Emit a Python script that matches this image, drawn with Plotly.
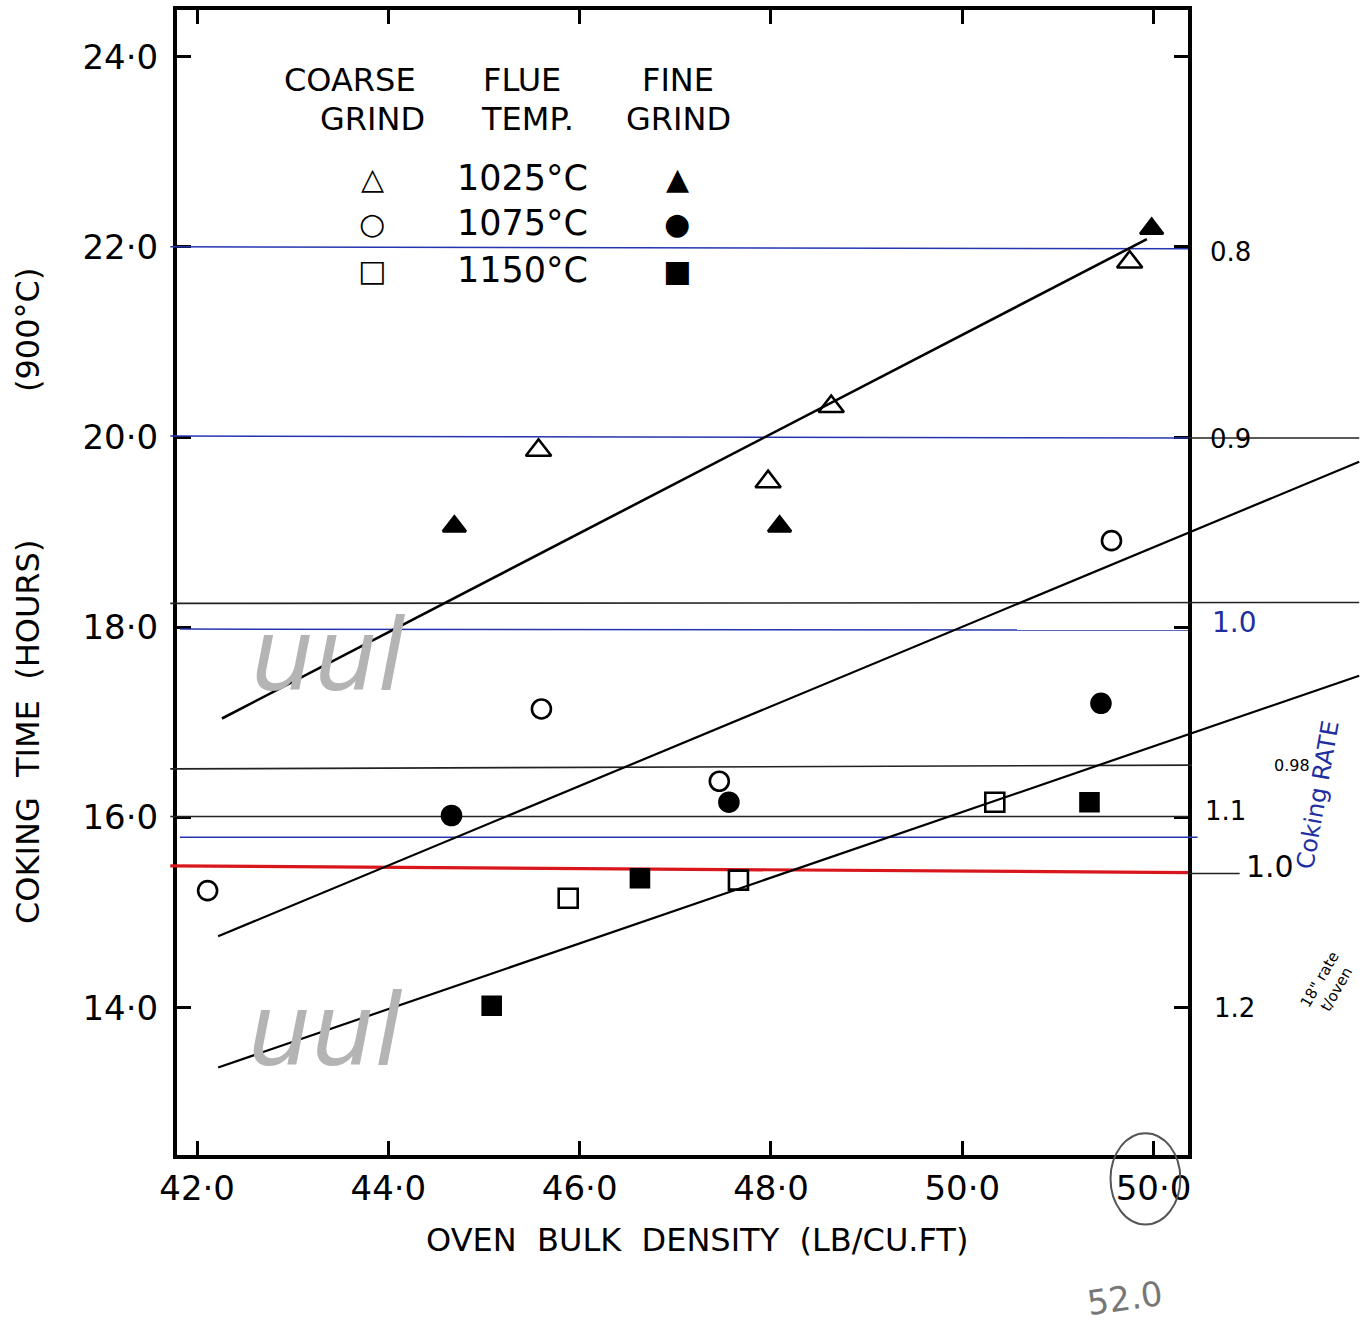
import plotly.graph_objects as go

# ---------------- data ----------------
# coarse grind (open markers)
c1025_x = [45.57, 47.97, 48.63, 51.75]
c1025_y = [19.86, 19.53, 20.32, 21.84]
c1075_x = [42.11, 45.60, 47.46, 51.56]
c1075_y = [15.23, 17.14, 16.38, 18.91]
c1150_x = [45.88, 47.66, 50.34]
c1150_y = [15.15, 15.34, 16.16]
# fine grind (filled markers)
f1025_x = [44.69, 48.09, 51.98]
f1025_y = [19.06, 19.06, 22.19]
f1075_x = [44.66, 47.56, 51.45]
f1075_y = [16.02, 16.16, 17.20]
f1150_x = [45.08, 46.63, 51.33]
f1150_y = [14.02, 15.36, 16.16]

# fitted lines (end points)
fit1025_x = [42.26, 51.93]
fit1025_y = [17.04, 22.08]
fit1075_x = [42.22, 54.15]
fit1075_y = [14.75, 19.74]
fit1150_x = [42.22, 54.15]
fit1150_y = [13.37, 17.49]

# hand-drawn horizontal reference lines: (x_start, x_end, y_start, y_end)
blue_lines = [(41.72, 52.36, 22.00, 21.98), (41.72, 52.36, 20.01, 19.99),
              (41.82, 52.36, 17.98, 17.97), (41.82, 52.46, 15.79, 15.79)]
black_lines = [(52.36, 54.15, 19.99, 19.99), (41.72, 54.15, 18.25, 18.26),
               (41.72, 52.40, 16.51, 16.55), (41.72, 52.36, 16.01, 16.01),
               (52.36, 52.90, 15.41, 15.41)]
red_line = (41.72, 52.36, 15.49, 15.42)

x_ticks = [42, 44, 46, 48, 50, 52]
x_ticktext = ["42·0", "44·0", "46·0", "48·0", "50·0", "50·0"]
y_ticks = [14, 16, 18, 20, 22, 24]
y_ticktext = ["14·0", "16·0", "18·0", "20·0", "22·0", "24·0"]

rate_text = ["0.8", "0.9", "1.0", "1.1", "1.0", "1.2"]
rate_x = [52.80, 52.80, 52.85, 52.75, 53.22, 52.85]
rate_y = [21.95, 19.98, 18.05, 16.07, 15.48, 14.00]
rate_col = ["black", "black", "#1f2fa0", "black", "black", "black"]
rate_size = [26, 26, 28, 26, 30, 26]

W, H = 1363, 1332
L, R, T, B = 177, 1188, 10, 1155  # plot box in pixels
X_RANGE = [41.79, 52.36]
Y_RANGE = [12.45, 24.49]

# full-page axes with the same scale (for marks that run past the frame)
sx = (X_RANGE[1] - X_RANGE[0]) / (R - L)
sy = (Y_RANGE[1] - Y_RANGE[0]) / (B - T)
X2_RANGE = [X_RANGE[0] - L * sx, X_RANGE[1] + (W - R) * sx]
Y2_RANGE = [Y_RANGE[0] - (H - B) * sy, Y_RANGE[1] + T * sy]

FONT = "DejaVu Sans"
fig = go.Figure()

# dummy trace to keep main frame subplot
fig.add_trace(go.Scatter(x=[], y=[], showlegend=False))

def seg(xs, ys, color, width):
    fig.add_trace(go.Scatter(x=xs, y=ys, mode="lines", xaxis="x2", yaxis="y2",
                             line=dict(color=color, width=width),
                             showlegend=False, hoverinfo="skip"))

for (x0, x1, y0, y1) in blue_lines:
    seg([x0, x1], [y0, y1], "#2535b0", 1.5)
for (x0, x1, y0, y1) in black_lines:
    seg([x0, x1], [y0, y1], "#222222", 1.6)
seg([red_line[0], red_line[1]], [red_line[2], red_line[3]], "#d8161b", 3.2)

seg(fit1025_x, fit1025_y, "black", 2.6)
seg(fit1075_x, fit1075_y, "black", 2.2)
seg(fit1150_x, fit1150_y, "black", 2.2)

def pts(xs, ys, symbol, size):
    fig.add_trace(go.Scatter(x=xs, y=ys, mode="markers", showlegend=False,
                             xaxis="x2", yaxis="y2",
                             marker=dict(symbol=symbol, size=size, color="black",
                                         line=dict(color="black", width=2.6))))

pts(c1025_x, c1025_y, "triangle-up-open", 22)
pts(c1075_x, c1075_y, "circle-open", 19)
pts(c1150_x, c1150_y, "square-open", 19)
pts(f1025_x, f1025_y, "triangle-up", 20)
pts(f1075_x, f1075_y, "circle", 19)
pts(f1150_x, f1150_y, "square", 18)

def P(px, py):
    return px / W, 1 - py / H

ann = []
def text(px, py, s, size=32, color="black", angle=0, family=FONT):
    x, y = P(px, py)
    ann.append(dict(x=x, y=y, xref="paper", yref="paper", text=s, showarrow=False,
                    font=dict(family=family, size=size, color=color),
                    textangle=angle, xanchor="center", yanchor="middle"))

# legend block
text(350, 80, "COARSE", 32)
text(372, 119, "GRIND", 32)
text(522, 80, "FLUE", 32)
text(527, 119, "TEMP.", 32)
text(678, 80, "FINE", 32)
text(678, 119, "GRIND", 32)
for py, open_s, lab, fill_s in [(178, "△", "1025°C", "▲"), (223, "○", "1075°C", "●"),
                               (270, "□", "1150°C", "■")]:
    text(372, py, open_s, 30)
    text(522, py, lab, 35)
    text(677, py, fill_s, 30)

# axis titles
text(697, 1240, "OVEN  BULK  DENSITY  (LB/CU.FT)", 32)
text(28, 732, "COKING  TIME  (HOURS)", 32, angle=-90)
text(28, 330, "(900°C)", 32, angle=-90)

# handwritten notes
for s, xv, yv, c, fs in zip(rate_text, rate_x, rate_y, rate_col, rate_size):
    ann.append(dict(x=xv, y=yv, xref="x2", yref="y2", text=s, showarrow=False,
                    font=dict(family=FONT, size=fs, color=c),
                    xanchor="center", yanchor="middle"))
text(1292, 765, "0.98", 16)
text(1318, 795, "Coking RATE", 24, color="#1f2fa0", angle=-80)
text(1328, 985, "18\" rate<br>t/oven", 15, angle=-60)
text(1125, 1298, "52.0", 34, color="#777777", angle=-8)
# pencil scribbles on the chart
text(328, 655, "<i>uul</i>", 100, color="#b4b4b4")
text(325, 1030, "<i>uul</i>", 100, color="#b4b4b4")

fig.update_layout(
    width=W, height=H, margin=dict(l=0, r=0, t=0, b=0, autoexpand=False),
    paper_bgcolor="white", plot_bgcolor="rgba(0,0,0,0)",
    annotations=ann,
    xaxis=dict(domain=[L / W, R / W], range=X_RANGE, tickvals=x_ticks, ticktext=x_ticktext,
               ticks="inside", ticklen=14, tickwidth=2.5, tickcolor="black",
               showline=True, linewidth=4, linecolor="black", mirror="ticks",
               showgrid=False, zeroline=False, anchor="y", automargin=False,
               ticklabelstandoff=0,
               tickfont=dict(family=FONT, size=34, color="black")),
    yaxis=dict(domain=[1 - B / H, 1 - T / H], range=Y_RANGE, tickvals=y_ticks, ticktext=y_ticktext,
               ticks="inside", ticklen=14, tickwidth=2.5, tickcolor="black",
               showline=True, linewidth=4, linecolor="black", mirror="ticks",
               showgrid=False, zeroline=False, anchor="x", automargin=False,
               ticklabelstandoff=8,
               tickfont=dict(family=FONT, size=34, color="black")),
    xaxis2=dict(domain=[0, 1], range=X2_RANGE, visible=False, anchor="y2", automargin=False),
    yaxis2=dict(domain=[0, 1], range=Y2_RANGE, visible=False, anchor="x2", automargin=False),
)
# ellipse around last x tick label (hand mark)
fig.add_shape(type="circle", xref="x2", yref="y2", x0=51.55, x1=52.28, y0=11.72, y1=12.68,
              line=dict(color="#555555", width=2))

fig.write_html("out.html")
